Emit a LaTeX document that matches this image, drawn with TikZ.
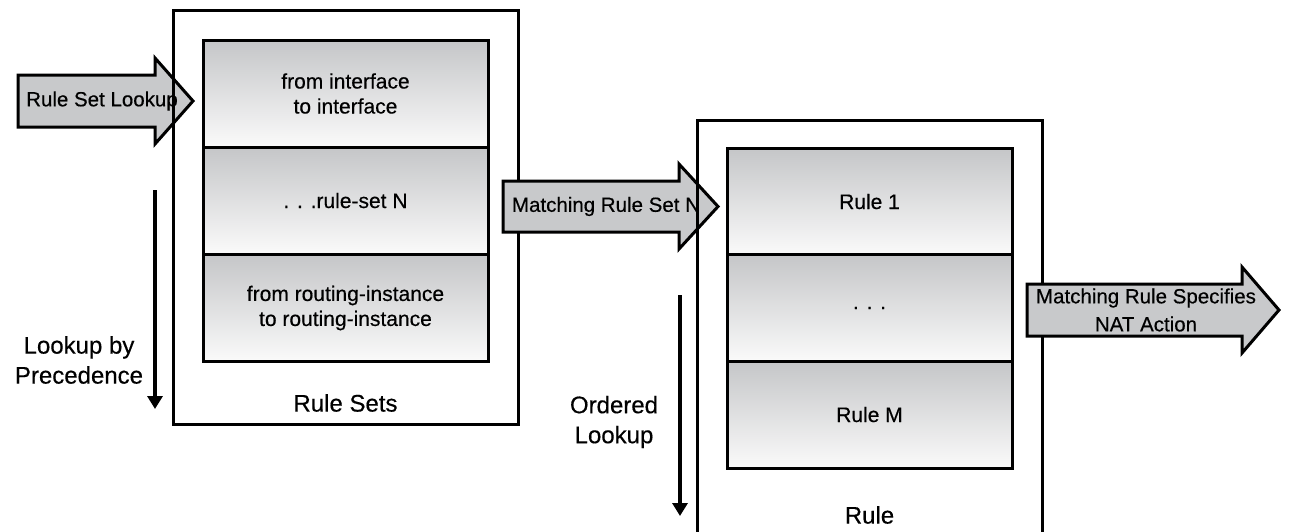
\documentclass[tikz,border=0pt]{standalone}
\usepackage{fontspec}
\setmainfont{Liberation Sans}[FakeBold=0.4]
\usetikzlibrary{arrows.meta}
\definecolor{slottop}{RGB}{197,198,200}
\definecolor{slotbot}{RGB}{250,250,250}
\definecolor{arrowgray}{RGB}{200,201,203}
\tikzset{
  frame/.style={
    rectangle,
    draw=black, line width=3pt,
    minimum width=345pt,
    inner sep=0pt},
  slot/.style={
    rectangle,
    draw=black, line width=3pt,
    top color=slottop, bottom color=slotbot,
    minimum width=285pt, minimum height=107pt,
    inner sep=0pt, align=center,
    font=\fontsize{21}{25}\selectfont},
  blockarrow/.style=
      {draw=black, line width=3pt, fill=arrowgray, line join=miter},
  arrowtext/.style={align=center, inner sep=0pt, font=\fontsize{20.5}{28}\selectfont},
  caption/.style={align=center, inner sep=0pt, font=\fontsize{24}{30}\selectfont},
  order/.style={line width=3.5pt, -{Triangle[width=15pt,length=13pt]}},
}

\begin{document}
\begin{tikzpicture}[x=1pt,y=-1pt]
\clip (0,0) rectangle (1289,531);
\fill[white] (0,0) rectangle (1289,531);

% incoming lookup
\draw[blockarrow] (18,75) -- (155,75) -- (155,58) -- (193,101) -- (155,144) -- (155,127) -- (18,127) -- cycle;
\node[arrowtext] at (102,101) (setlookup) {Rule Set Lookup};

% rule sets
\node[frame, minimum height=414pt] at (345.5,217) (rulesets) {};
\node[slot] at (345.5,93.5)  (iface)  {from interface\\to interface};
\node[slot] at (345.5,200.5) (setn)   {. . .rule-set N};
\node[slot] at (345.5,308)   (rinst)  {from routing-instance\\to routing-instance};
\node[caption] at (345.5,403) (setslabel) {Rule Sets};

\coordinate (prectop) at (155,190);
\coordinate (precbot) at (155,409);
\draw[order] (prectop) -- (precbot);
\node[caption] at (79,360) (precedence) {Lookup by\\Precedence};

% matching rule set
\draw[blockarrow] (503,181) -- (679,181) -- (679,164) -- (718,206.5) -- (679,249) -- (679,232) -- (503,232) -- cycle;
\node[arrowtext] at (606,206.5) (matchset) {Matching Rule Set N};

% rules
\node[frame, minimum height=440pt] at (869.5,340) (rules) {};
\node[slot] at (869.5,201.5) (rule1) {Rule 1};
\node[slot] at (869.5,308)   (ruledots) {. . .};
\node[slot] at (869.5,414.5) (rulem) {Rule M};
\node[caption] at (869.5,515) (ruleslabel) {Rule};

\coordinate (ordtop) at (680,295);
\coordinate (ordbot) at (680,516);
\draw[order] (ordtop) -- (ordbot);
\node[caption] at (614,422) (ordered) {Ordered\\Lookup};

% matching rule
\draw[blockarrow] (1027,284) -- (1242,284) -- (1242,267) -- (1279,310) -- (1242,353) -- (1242,336) -- (1027,336) -- cycle;
\node[arrowtext] at (1146,310) (matchrule) {Matching Rule Specifies\\NAT Action};
\end{tikzpicture}
\end{document}
